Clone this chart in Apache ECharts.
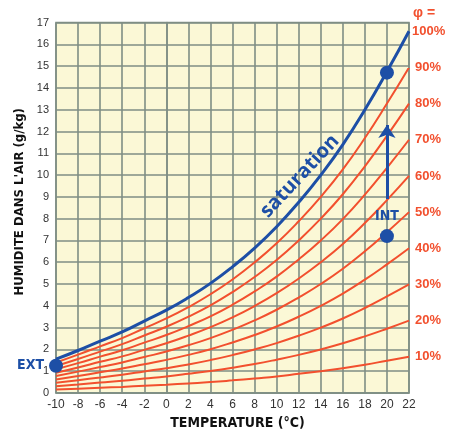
<!DOCTYPE html>
<html><head><meta charset="utf-8">
<script src="https://cdn.jsdelivr.net/npm/echarts@6/dist/echarts.min.js"></script>
<style>html,body{margin:0;padding:0;background:#fff}#c{width:458px;height:435px}</style>
</head><body><div id="c"></div>
<script>
// Temperatures (°C)
var temps = [-10,-8,-6,-4,-2,0,2,4,6,8,10,12,14,16,18,20,22];
// Saturation humidity (g/kg)
var saturation = [1.55,1.95,2.38,2.8,3.3,3.8,4.38,5.03,5.79,6.65,7.63,8.75,10.0,11.4,13.0,14.75,16.6];
// Relative humidity curves (g/kg)
var rh10 = [0.16,0.2,0.24,0.28,0.33,0.38,0.44,0.5,0.58,0.67,0.76,0.88,1.0,1.14,1.3,1.48,1.66];
var rh20 = [0.31,0.39,0.48,0.56,0.66,0.76,0.88,1.01,1.16,1.33,1.53,1.75,2.0,2.28,2.6,2.95,3.32];
var rh30 = [0.47,0.59,0.71,0.84,0.99,1.14,1.31,1.51,1.74,2.0,2.29,2.63,3.0,3.42,3.9,4.43,4.98];
var rh40 = [0.62,0.78,0.95,1.12,1.32,1.52,1.75,2.01,2.32,2.66,3.05,3.5,4.0,4.56,5.2,5.9,6.64];
var rh50 = [0.78,0.98,1.19,1.4,1.65,1.9,2.19,2.52,2.9,3.33,3.82,4.38,5.0,5.7,6.5,7.38,8.3];
var rh60 = [0.93,1.17,1.43,1.68,1.98,2.28,2.63,3.02,3.47,3.99,4.58,5.25,6.0,6.84,7.8,8.85,9.96];
var rh70 = [1.09,1.37,1.67,1.96,2.31,2.66,3.07,3.52,4.05,4.66,5.34,6.13,7.0,7.98,9.1,10.33,11.62];
var rh80 = [1.24,1.56,1.9,2.24,2.64,3.04,3.5,4.02,4.63,5.32,6.1,7.0,8.0,9.12,10.4,11.8,13.28];
var rh90 = [1.4,1.76,2.14,2.52,2.97,3.42,3.94,4.53,5.21,5.99,6.87,7.88,9.0,10.26,11.7,13.28,14.94];
var rhCurves = [rh10,rh20,rh30,rh40,rh50,rh60,rh70,rh80,rh90];
var rhNames = ['10%','20%','30%','40%','50%','60%','70%','80%','90%'];
// Marked points
var pointEXT = [-10, 1.25];
var pointSat20 = [20, 14.7];
var pointINT = [20, 7.2];
var arrowINT = [[20, 8.9], [20, 12.3]];
var satTextPos = [12.1, 9.95];

var BLUE = '#1d4fa6', RED = '#f2502e', GRID = '#7f8e84';
var COND = '"DejaVu Sans Condensed", "Liberation Sans Narrow", sans-serif';
var chart = echarts.init(document.getElementById('c'));
function pairs(arr){ return temps.map(function(t,i){ return [t, arr[i]]; }); }
var series = [];
rhCurves.forEach(function(c, i){
  series.push({
    name: rhNames[i], type: 'line', data: pairs(c), smooth: true, symbol: 'none',
    lineStyle: {color: RED, width: 2}, z: 3,
    endLabel: {show: true, formatter: rhNames[i], color: RED, fontWeight: 'bold',
      fontSize: 13, fontFamily: 'Liberation Sans', distance: 6}
  });
});
series.push({
  name: '100%', type: 'line', data: pairs(saturation), smooth: true, symbol: 'none',
  lineStyle: {color: BLUE, width: 3}, z: 4,
  endLabel: {show: true, formatter: '100%', color: RED, fontWeight: 'bold',
    fontSize: 13, fontFamily: 'Liberation Sans', distance: 3}
});
series.push({
  type: 'lines', coordinateSystem: 'cartesian2d', z: 5,
  symbol: ['none', 'arrow'], symbolSize: [0, 13],
  lineStyle: {color: BLUE, width: 3, opacity: 1},
  data: [{coords: arrowINT}]
});
series.push({
  type: 'scatter', symbolSize: 14, itemStyle: {color: BLUE, opacity: 1}, z: 6,
  data: [
    {value: pointEXT, label: {show: true, position: 'left', formatter: 'EXT', distance: 5}},
    {value: pointSat20},
    {value: pointINT, label: {show: true, position: 'top', formatter: 'INT', distance: 6}}
  ],
  label: {color: BLUE, fontWeight: 'bold', fontSize: 14, fontFamily: COND}
});

chart.setOption({
  animation: false,
  grid: {left: 56, right: 49, top: 22.5, bottom: 37.5, show: true, backgroundColor: '#fbf8d6', borderColor: GRID, borderWidth: 1.5},
  xAxis: {
    type: 'value', min: -10, max: 22, interval: 2,
    name: 'TEMPERATURE (°C)', nameLocation: 'middle', nameGap: 23,
    nameTextStyle: {fontWeight: 'bold', fontSize: 14, color: '#111', fontFamily: COND, padding: [0,0,0,10]},
    axisLine: {show: true, lineStyle: {color: GRID, width: 1.5}},
    axisTick: {show: false},
    axisLabel: {color: '#333', fontSize: 12, margin: 6, fontFamily: 'Liberation Sans'},
    splitLine: {show: true, lineStyle: {color: GRID, width: 1.6}}
  },
  yAxis: {
    type: 'value', min: 0, max: 17, interval: 1,
    name: "HUMIDITE DANS L'AIR (g/kg)", nameLocation: 'middle', nameGap: 28,
    nameTextStyle: {fontWeight: 'bold', fontSize: 13, color: '#111', fontFamily: COND, padding: [0,0,0,12]},
    axisLine: {show: true, lineStyle: {color: GRID, width: 1.5}},
    axisTick: {show: false},
    axisLabel: {color: '#333', fontSize: 11, margin: 7, fontFamily: 'Liberation Sans'},
    splitLine: {show: true, lineStyle: {color: GRID, width: 1.6}}
  },
  series: series
});

var p = chart.convertToPixel({gridIndex: 0}, satTextPos);
var pEnd = chart.convertToPixel({gridIndex: 0}, [22, saturation[saturation.length-1]]);
chart.setOption({
  graphic: [
    {type: 'text', x: p[0], y: p[1], rotation: 47 * Math.PI / 180,
     style: {text: 'saturation', fill: BLUE, font: 'bold 20px "Open Sans", sans-serif', align: 'center', verticalAlign: 'middle'}},
    {type: 'text', x: pEnd[0] + 4, y: pEnd[1] - 18,
     style: {text: 'φ =', fill: RED, font: 'bold 14px "Liberation Sans", sans-serif', align: 'left', verticalAlign: 'middle'}}
  ]
});
</script></body></html>
